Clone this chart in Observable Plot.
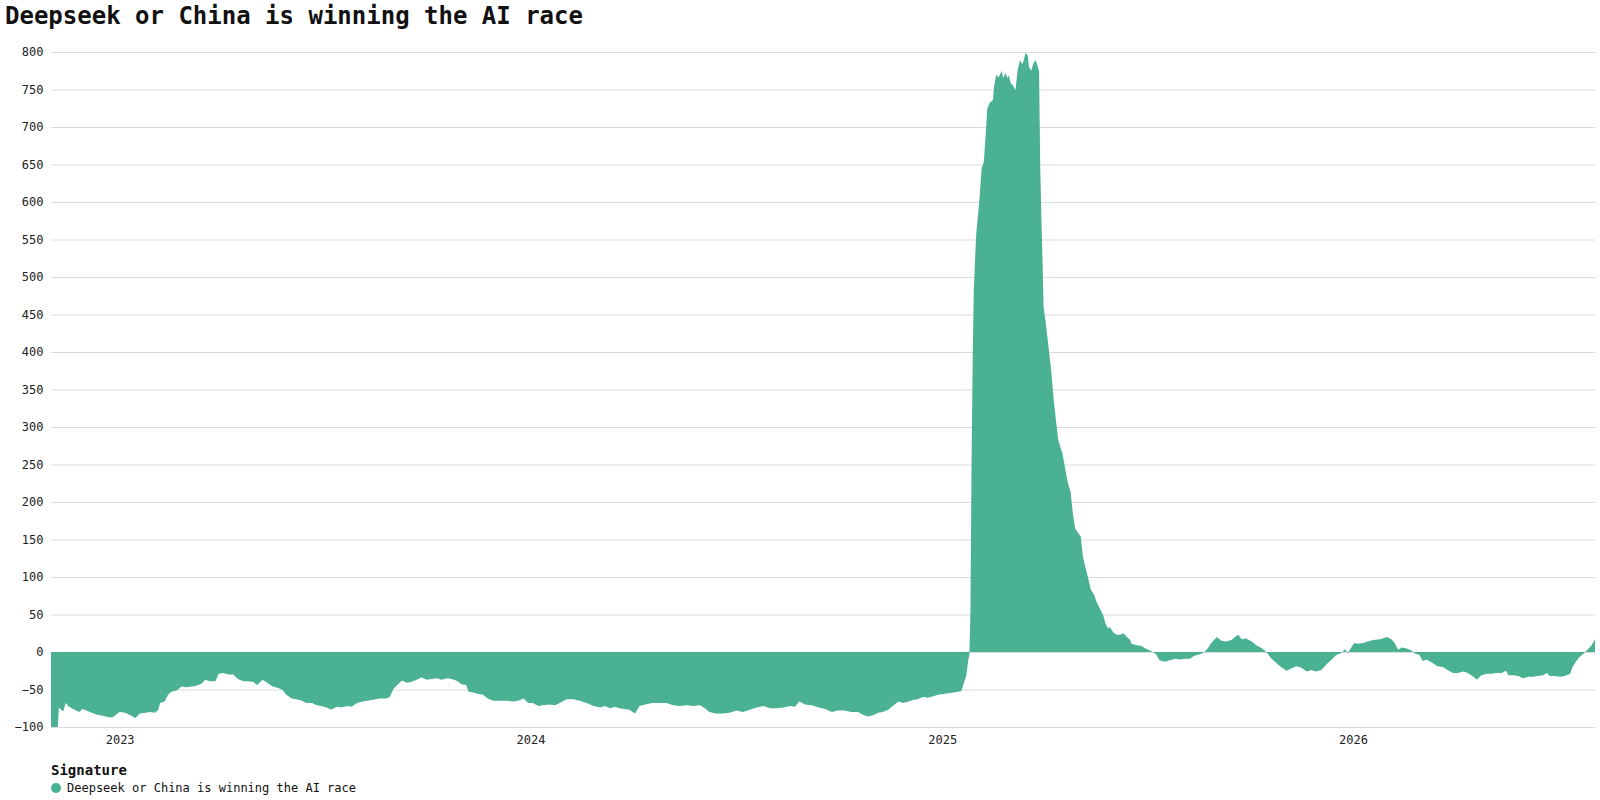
<!DOCTYPE html>
<html>
<head>
<meta charset="utf-8">
<script src="https://cdn.jsdelivr.net/npm/d3@7"></script>
<script src="https://cdn.jsdelivr.net/npm/@observablehq/plot@0.6"></script>
<style>
  body { margin: 0; background: #fff; font-family: "DejaVu Sans Mono", "Liberation Mono", monospace; color: #111; }
  #title { font: bold 24px "DejaVu Sans Mono", monospace; height: 40px; line-height: 32px; padding-left: 5px; box-sizing: border-box; white-space: nowrap; }
  #chart svg { display: block; }
  #legend { margin-left: 51px; margin-top: 4px; }
  #legend .head { font: bold 14px "DejaVu Sans Mono", monospace; line-height: 18px; }
  #legend .item { font: 12px "DejaVu Sans Mono", monospace; line-height: 18px; display: flex; align-items: center; }
  #legend .dot { width: 10px; height: 10px; border-radius: 50%; background: #4ab193; margin-right: 6px; }
</style>
</head>
<body>
<div id="title">Deepseek or China is winning the AI race</div>
<div id="chart"></div>
<div id="legend">
  <div class="head">Signature</div>
  <div class="item"><span class="dot"></span><span id="seriesName"></span></div>
</div>
<script>
const seriesName = "Deepseek or China is winning the AI race";

const dates = [
"2022-11-01","2022-11-07","2022-11-08","2022-11-10","2022-11-12","2022-11-14","2022-11-17","2022-11-22","2022-11-26","2022-11-29",
"2022-12-04","2022-12-09","2022-12-13","2022-12-17","2022-12-22","2022-12-26","2022-12-30","2023-01-01","2023-01-06","2023-01-10",
"2023-01-15","2023-01-19","2023-01-24","2023-01-28","2023-02-01","2023-02-04","2023-02-06","2023-02-10","2023-02-13","2023-02-16",
"2023-02-21","2023-02-25","2023-03-01","2023-03-06","2023-03-10","2023-03-15","2023-03-18","2023-03-22","2023-03-27","2023-03-30",
"2023-04-03","2023-04-08","2023-04-12","2023-04-16","2023-04-21","2023-04-25","2023-04-30","2023-05-03","2023-05-08","2023-05-13",
"2023-05-17","2023-05-22","2023-05-26","2023-05-29","2023-06-03","2023-06-07","2023-06-12","2023-06-16","2023-06-21","2023-06-25",
"2023-06-29","2023-07-04","2023-07-08","2023-07-13","2023-07-17","2023-07-22","2023-07-26","2023-07-31","2023-08-05","2023-08-13",
"2023-08-20","2023-08-26","2023-08-29","2023-09-01","2023-09-04","2023-09-09","2023-09-13","2023-09-17","2023-09-22","2023-09-26",
"2023-10-01","2023-10-05","2023-10-10","2023-10-14","2023-10-19","2023-10-23","2023-10-27","2023-11-01","2023-11-05","2023-11-07",
"2023-11-11","2023-11-16","2023-11-20","2023-11-24","2023-11-29","2023-12-05","2023-12-11","2023-12-17","2023-12-21","2023-12-26",
"2023-12-30","2024-01-03","2024-01-08","2024-01-12","2024-01-18","2024-01-23","2024-01-27","2024-02-02","2024-02-08","2024-02-14",
"2024-02-20","2024-02-26","2024-03-03","2024-03-07","2024-03-12","2024-03-16","2024-03-20","2024-03-25","2024-03-29","2024-04-03",
"2024-04-07","2024-04-12","2024-04-18","2024-04-23","2024-05-01","2024-05-07","2024-05-13","2024-05-19","2024-05-25","2024-05-31",
"2024-06-04","2024-06-08","2024-06-14","2024-06-20","2024-06-26","2024-07-02","2024-07-08","2024-07-14","2024-07-20","2024-07-26",
"2024-08-01","2024-08-07","2024-08-13","2024-08-19","2024-08-23","2024-08-27","2024-09-01","2024-09-07","2024-09-13","2024-09-19",
"2024-09-25","2024-09-30","2024-10-06","2024-10-12","2024-10-18","2024-10-23","2024-10-27","2024-11-01","2024-11-05","2024-11-09",
"2024-11-14","2024-11-18","2024-11-23","2024-11-27","2024-12-02","2024-12-06","2024-12-10","2024-12-15","2024-12-19","2024-12-24",
"2024-12-28","2025-01-02","2025-01-06","2025-01-11","2025-01-15","2025-01-18","2025-01-20","2025-01-22","2025-01-23","2025-01-24",
"2025-01-25","2025-01-26","2025-01-27","2025-01-28","2025-01-29","2025-01-31","2025-02-03","2025-02-05","2025-02-07","2025-02-09",
"2025-02-10","2025-02-12","2025-02-15","2025-02-16","2025-02-18","2025-02-20","2025-02-23","2025-02-24","2025-02-26","2025-02-28",
"2025-03-01","2025-03-03","2025-03-05","2025-03-07","2025-03-09","2025-03-11","2025-03-13","2025-03-14","2025-03-16","2025-03-18",
"2025-03-19","2025-03-21","2025-03-23","2025-03-25","2025-03-27","2025-03-28","2025-03-29","2025-03-30","2025-03-31","2025-04-01",
"2025-04-03","2025-04-05","2025-04-08","2025-04-10","2025-04-12","2025-04-14","2025-04-16","2025-04-18","2025-04-21","2025-04-23",
"2025-04-25","2025-04-27","2025-04-29","2025-05-02","2025-05-04","2025-05-06","2025-05-08","2025-05-11","2025-05-13","2025-05-16",
"2025-05-18","2025-05-21","2025-05-24","2025-05-26","2025-05-28","2025-05-30","2025-06-02","2025-06-05","2025-06-08","2025-06-11",
"2025-06-14","2025-06-17","2025-06-18","2025-06-23","2025-06-27","2025-06-30","2025-07-03","2025-07-07","2025-07-10","2025-07-13",
"2025-07-18","2025-07-22","2025-07-27","2025-07-31","2025-08-04","2025-08-09","2025-08-13","2025-08-18","2025-08-22","2025-08-25",
"2025-08-28","2025-09-02","2025-09-06","2025-09-10","2025-09-15","2025-09-18","2025-09-21","2025-09-24","2025-09-28","2025-10-03",
"2025-10-07","2025-10-12","2025-10-16","2025-10-20","2025-10-25","2025-10-29","2025-11-03","2025-11-07","2025-11-12","2025-11-16",
"2025-11-21","2025-11-25","2025-11-29","2025-12-04","2025-12-08","2025-12-13","2025-12-17","2025-12-22","2025-12-25","2025-12-27",
"2025-12-30","2026-01-02","2026-01-05","2026-01-10","2026-01-14","2026-01-19","2026-01-25","2026-01-31","2026-02-04","2026-02-07",
"2026-02-10","2026-02-13","2026-02-17","2026-02-22","2026-02-25","2026-03-01","2026-03-04","2026-03-07","2026-03-11","2026-03-15",
"2026-03-17","2026-03-22","2026-03-26","2026-03-31","2026-04-04","2026-04-09","2026-04-13","2026-04-18","2026-04-21","2026-04-25",
"2026-04-30","2026-05-04","2026-05-08","2026-05-13","2026-05-17","2026-05-19","2026-05-23","2026-05-28","2026-06-01","2026-06-06",
"2026-06-10","2026-06-14","2026-06-19","2026-06-22","2026-06-25","2026-06-29","2026-07-04","2026-07-08","2026-07-13","2026-07-15",
"2026-07-18","2026-07-21","2026-07-25","2026-07-29","2026-08-01","2026-08-04"
];

const values = [
-100,-100,-74,-77,-79,-68,-73,-77,-80,-76,
-79,-82,-84,-85,-87,-87,-82,-80,-81,-84,
-88,-82,-81,-80,-81,-78,-68,-66,-57,-53,
-51,-46,-47,-46,-45,-42,-37,-39,-39,-29,
-28,-30,-30,-36,-39,-39,-40,-44,-37,-42,
-46,-48,-51,-57,-62,-63,-65,-68,-68,-71,
-72,-74,-77,-73,-74,-72,-73,-68,-66,-64,
-62,-62,-60,-50,-45,-38,-41,-40,-37,-34,
-37,-36,-35,-37,-35,-36,-38,-43,-44,-53,
-54,-56,-57,-62,-65,-65,-65,-66,-65,-62,
-68,-68,-72,-71,-70,-71,-68,-63,-63,-65,
-68,-72,-74,-72,-75,-73,-75,-76,-77,-82,
-72,-70,-68,-68,-68,-71,-72,-71,-72,-71,
-75,-80,-82,-82,-81,-78,-80,-77,-74,-72,
-75,-75,-74,-72,-73,-66,-70,-71,-74,-76,
-80,-78,-78,-80,-80,-84,-86,-84,-81,-80,
-77,-72,-66,-68,-66,-64,-63,-60,-61,-59,
-57,-56,-55,-54,-53,-52,-42,-33,-24,-11,
-5,52,250,390,483,554,603,645,654,700,
725,732,736,754,770,766,775,765,772,765,
769,758,755,749,776,789,784,787,799,795,
780,775,785,789,780,774,650,580,527,460,
438,412,372,336,309,283,273,263,238,223,
214,185,165,158,154,127,114,96,83,76,
67,58,49,38,32,33,26,23,23,25,
20,16,11,9,8,5,3,0,-3,-11,
-13,-11,-9,-10,-9,-9,-5,-3,0,5,
12,20,15,14,16,20,23,17,18,14,
9,5,0,-8,-15,-20,-25,-22,-19,-21,
-26,-24,-26,-24,-17,-10,-4,-1,4,-2,
5,12,11,12,14,16,17,20,17,12,
3,6,5,2,-2,-4,-12,-10,-13,-17,
-19,-20,-24,-28,-28,-26,-28,-33,-37,-31,
-29,-29,-28,-28,-25,-31,-31,-32,-35,-33,
-33,-32,-31,-28,-32,-32,-33,-32,-29,-20,
-13,-7,-2,4,9,17
];

const yTicks = [-100,-50,0,50,100,150,200,250,300,350,400,450,500,550,600,650,700,750,800];
const xTicks = ["2023-01-01","2024-01-01","2025-01-01","2026-01-01"];

const parse = d3.utcParse("%Y-%m-%d");
const data = dates.map((d, i) => ({date: parse(d), value: values[i]}));

document.getElementById("seriesName").textContent = seriesName;

const chart = Plot.plot({
  width: 1600,
  height: 717,
  marginTop: 12,
  marginBottom: 30,
  marginLeft: 51,
  marginRight: 5,
  style: {fontFamily: "'DejaVu Sans Mono', monospace", fontSize: "12px", color: "#222", background: "#fff"},
  x: {type: "utc", domain: d3.extent(data, d => d.date)},
  y: {domain: [-100, 800]},
  marks: [
    Plot.ruleY(yTicks, {stroke: "#dcdcdc", strokeWidth: 1}),
    Plot.areaY(data, {x: "date", y: "value", fill: "#36a886", fillOpacity: 0.9, curve: "linear"}),
    Plot.axisY({ticks: yTicks, tickSize: 0, tickPadding: 8, label: null}),
    Plot.axisX({ticks: xTicks.map(parse), tickSize: 0, tickPadding: 8, tickFormat: d3.utcFormat("%Y"), label: null})
  ]
});
document.getElementById("chart").appendChild(chart);
</script>
</body>
</html>
